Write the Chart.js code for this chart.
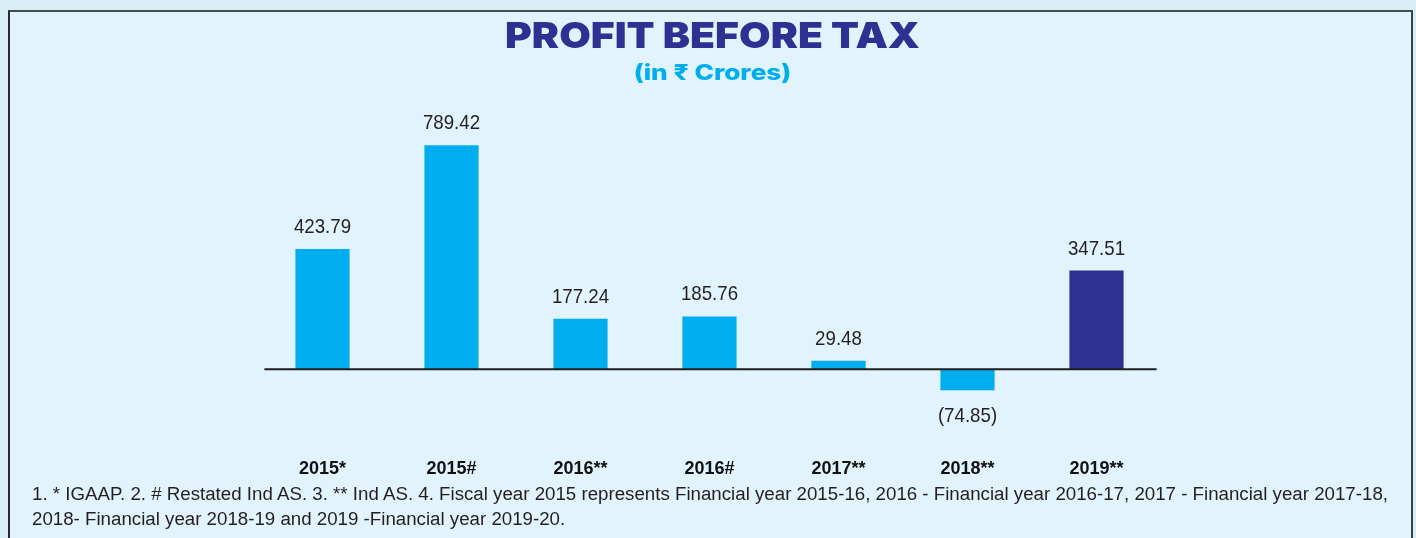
<!DOCTYPE html>
<html>
<head>
<meta charset="utf-8">
<script src="https://cdn.jsdelivr.net/npm/chart.js@4.4.1/dist/chart.umd.min.js"></script>
<style>
  html, body { margin: 0; padding: 0; width: 1416px; height: 538px; overflow: hidden; background: #d7eff4; }
  .box { position: absolute; left: 8px; top: 10px; width: 1401px; height: 600px; background: #e1f3fc;
         border-top: 2px solid #474c50; border-left: 2px solid #262a2c; border-right: 2px solid #3a3f42; }
  #wrap { position: absolute; left: 0; top: 0; width: 1416px; height: 538px; }
  .note { position: absolute; left: 32px; top: 482px; font-family: "Liberation Sans", Arial, sans-serif;
          font-size: 18px; line-height: 25px; color: #231f20; white-space: nowrap; transform-origin: 0 0; }
  .note span { display: inline-block; }
</style>
</head>
<body>
<div class="box"></div>
<div id="wrap"><canvas id="c" width="1416" height="538"></canvas></div>
<div class="note" id="note"><span id="l1">1. * IGAAP. 2. # Restated Ind AS. 3. ** Ind AS. 4. Fiscal year 2015 represents Financial year 2015-16, 2016 - Financial year 2016-17, 2017 - Financial year 2017-18,</span><br><span>2018- Financial year 2018-19 and 2019 -Financial year 2019-20.</span></div>
<script>
const categories = ["2015*", "2015#", "2016**", "2016#", "2017**", "2018**", "2019**"];
const profitBeforeTax = [423.79, 789.42, 177.24, 185.76, 29.48, -74.85, 347.51];
const valueLabels = ["423.79", "789.42", "177.24", "185.76", "29.48", "(74.85)", "347.51"];
const barColors = ["#00aeef", "#00aeef", "#00aeef", "#00aeef", "#00aeef", "#00aeef", "#2e3192"];

(function () {
  const l1 = document.getElementById('l1');
  const w = l1.getBoundingClientRect().width;
  document.getElementById('note').style.transform = 'scaleX(' + (1356 / w) + ')';
})();

const titleFont = 'Inter, "DejaVu Sans", sans-serif';
const titleText = 'PROFIT BEFORE TAX';
const subtitleText = '(in ₹ Crores)';
const titleColor = '#2e3192';
const subtitleColor = '#00aeef';

const labelPlugin = {
  id: 'valueLabels',
  afterDatasetsDraw(chart) {
    const ctx = chart.ctx;
    const meta = chart.getDatasetMeta(0);
    const zero = chart.scales.y.getPixelForValue(0);
    const first = meta.data[0], last = meta.data[meta.data.length - 1];
    ctx.save();
    ctx.strokeStyle = '#1e1e1e';
    ctx.lineWidth = 2;
    ctx.beginPath();
    ctx.moveTo(first.x - first.width / 2 - 31, zero);
    ctx.lineTo(last.x + last.width / 2 + 33, zero);
    ctx.stroke();
    ctx.fillStyle = '#231f20';
    ctx.font = '21px "Liberation Sans", Arial, sans-serif';
    ctx.textAlign = 'center';
    ctx.textBaseline = 'alphabetic';
    meta.data.forEach((bar, i) => {
      const v = profitBeforeTax[i];
      const y = v >= 0 ? bar.y - 16 : bar.y + 32;
      ctx.save();
      ctx.translate(bar.x, y);
      ctx.scale(0.89, 1);
      ctx.fillText(valueLabels[i], 0, 0);
      ctx.restore();
    });
    ctx.restore();
  },
  afterDraw(chart) {
    const ctx = chart.ctx;
    const tb = chart.titleBlock;
    if (!tb) return;
    const to = chart.options.plugins.title, so = chart.options.plugins.subtitle;
    const cx = (tb.left + tb.right) / 2 + 3;
    const subTop = tb.top + tb.height;
    ctx.save();
    ctx.textAlign = 'center';
    ctx.textBaseline = 'middle';
    ctx.save();
    ctx.translate(cx, tb.top + to.padding.top + 36 * 1.2 / 2);
    ctx.scale(1.135, 1);
    ctx.font = '900 36px ' + titleFont;
    ctx.fillStyle = titleColor;
    ctx.fillText(titleText, 0, 0);
    ctx.restore();
    ctx.save();
    ctx.translate(cx, subTop + so.padding.top + 22 * 1.2 / 2);
    ctx.scale(1.19, 1);
    ctx.font = '800 22px ' + titleFont;
    ctx.fillStyle = subtitleColor;
    ctx.fillText(subtitleText, 0, 0);
    ctx.restore();
    ctx.restore();
  }
};

new Chart(document.getElementById('c'), {
  type: 'bar',
  data: {
    labels: categories,
    datasets: [{
      data: profitBeforeTax,
      backgroundColor: barColors,
      borderWidth: 0,
      barPercentage: 0.42,
      categoryPercentage: 1.0
    }]
  },
  options: {
    responsive: false,
    animation: false,
    layout: { padding: { left: 258, right: 255, top: 0, bottom: 47 } },
    plugins: {
      legend: { display: false },
      tooltip: { enabled: false },
      title: {
        display: true,
        text: titleText,
        color: 'rgba(0,0,0,0)',
        font: { family: titleFont, size: 36, weight: 900 },
        padding: { top: 16, bottom: 0 }
      },
      subtitle: {
        display: true,
        text: subtitleText,
        color: 'rgba(0,0,0,0)',
        font: { family: titleFont, size: 22, weight: 800 },
        padding: { top: 1, bottom: 7 }
      }
    },
    scales: {
      x: {
        grid: { display: false, drawTicks: false },
        border: { display: false },
        ticks: { color: '#111', padding: 11, font: { family: '"Liberation Sans", Arial, sans-serif', size: 18, weight: 'bold' } }
      },
      y: {
        display: false,
        min: -276,
        max: 971.6
      }
    }
  },
  plugins: [labelPlugin]
});
</script>
</body>
</html>
